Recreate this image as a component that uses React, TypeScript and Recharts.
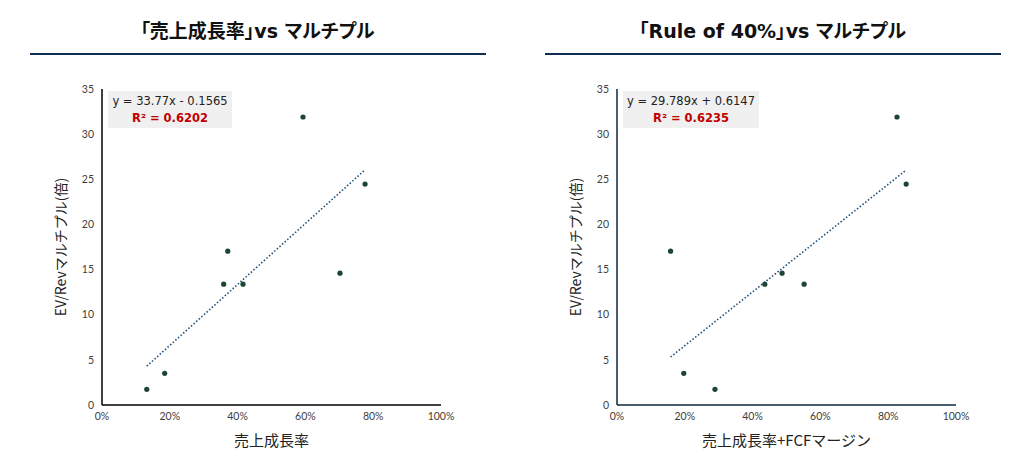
import React from 'react';
import {
  ScatterChart,
  Scatter,
  XAxis,
  YAxis,
  ReferenceLine,
} from 'recharts';

// 左: 売上成長率 vs マルチプル
const growthX = [0.132, 0.185, 0.359, 0.371, 0.416, 0.593, 0.702, 0.776];
const growthY = [1.74, 3.51, 13.38, 17.04, 13.38, 31.9, 14.6, 24.47];
const growthSlope = 33.77;
const growthIntercept = -0.1565;

// 右: Rule of 40% vs マルチプル
const ruleX = [0.158, 0.197, 0.289, 0.436, 0.487, 0.552, 0.826, 0.853];
const ruleY = [17.04, 3.51, 1.74, 13.38, 14.6, 13.38, 31.9, 24.47];
const ruleSlope = 29.789;
const ruleIntercept = 0.6147;

const xTicks = [0, 0.2, 0.4, 0.6, 0.8, 1];
const yTicks = [0, 5, 10, 15, 20, 25, 30, 35];

const JP = '"Noto Sans CJK JP", "Noto Sans", sans-serif';
const TITLE = '"DejaVu Sans", "Noto Sans CJK JP", sans-serif';
const TICK = 'Lato, "Noto Sans", sans-serif';

type PanelProps = {
  left: number;
  title: string;
  xs: number[];
  ys: number[];
  slope: number;
  intercept: number;
  eq: string;
  r2: string;
  xLabel: string;
  axisColor: string;
  eqWidth: number;
};

function Dot(props: any) {
  const { cx, cy } = props;
  return <circle cx={cx} cy={cy} r={2.6} fill="#1d4536" />;
}

function Panel({ left, title, xs, ys, slope, intercept, eq, r2, xLabel, axisColor, eqWidth }: PanelProps) {
  const points = xs.map((x, i) => ({ x, y: ys[i] }));
  const x0 = Math.min(...xs);
  const x1 = Math.max(...xs);
  const seg = [
    { x: x0, y: slope * x0 + intercept },
    { x: x1, y: slope * x1 + intercept },
  ];

  return (
    <div style={{ position: 'absolute', left, top: 0, width: 515, height: 468 }}>
      <div
        style={{
          position: 'absolute',
          left: 0,
          width: 515,
          top: 18,
          textAlign: 'center',
          fontFamily: TITLE,
          fontWeight: 700,
          fontSize: 19,
          lineHeight: '26px',
          color: '#111',
          fontFeatureSettings: '"palt"',
        }}
      >
        {title}
      </div>
      <div style={{ position: 'absolute', left: 30, width: 456, top: 53, height: 2, background: '#0f2d55' }} />

      <ScatterChart width={515} height={468} margin={{ top: 89, right: 74, bottom: 0, left: 0 }}>
        <XAxis
          type="number"
          dataKey="x"
          domain={[0, 1]}
          ticks={xTicks}
          tickFormatter={(v) => `${Math.round(v * 100)}%`}
          tickLine={false}
          axisLine={{ stroke: axisColor, strokeWidth: 1.5 }}
          tick={{ fontSize: 10.5, fill: '#404040', fontFamily: TICK }}
          height={63}
          label={{
            value: xLabel,
            position: 'insideTop',
            offset: 30,
            style: { fontSize: 15, fill: '#222', fontFamily: JP },
          }}
        />
        <YAxis
          type="number"
          dataKey="y"
          domain={[0, 35]}
          ticks={yTicks}
          tickLine={false}
          axisLine={{ stroke: axisColor, strokeWidth: 1.5 }}
          tick={{ fontSize: 10.5, fill: '#404040', fontFamily: TICK }}
          width={102}
          label={{
            value: 'EV/Revマルチプル(倍)',
            angle: -90,
            position: 'insideLeft',
            offset: 61,
            style: { textAnchor: 'middle', fontSize: 14, fill: '#222', fontFamily: JP },
          }}
        />
        <ReferenceLine
          segment={seg}
          stroke="#1f4e79"
          strokeWidth={1.6}
          strokeDasharray="1.5 2"
          ifOverflow="visible"
        />
        <Scatter data={points} shape={<Dot />} isAnimationActive={false} />
      </ScatterChart>

      <div
        style={{
          position: 'absolute',
          left: 108,
          top: 91,
          width: eqWidth,
          height: 37,
          background: '#f0f0f0',
          fontFamily: '"DejaVu Sans", sans-serif',
          textAlign: 'center',
        }}
      >
        <div style={{ fontSize: 11.5, color: '#222', lineHeight: '17px', marginTop: 2 }}>{eq}</div>
        <div style={{ fontSize: 11.5, color: '#c00000', fontWeight: 700, lineHeight: '16px' }}>{r2}</div>
      </div>
    </div>
  );
}

export default function App() {
  return (
    <div style={{ position: 'absolute', left: 0, top: 0, width: 1030, height: 468, background: '#fff' }}>
      <Panel
        left={0}
        title="「売上成長率」vs マルチプル"
        xs={growthX}
        ys={growthY}
        slope={growthSlope}
        intercept={growthIntercept}
        eq="y = 33.77x - 0.1565"
        r2="R² = 0.6202"
        xLabel="売上成長率"
        axisColor="#000"
        eqWidth={124}
      />
      <Panel
        left={515}
        title="「Rule of 40%」vs マルチプル"
        xs={ruleX}
        ys={ruleY}
        slope={ruleSlope}
        intercept={ruleIntercept}
        eq="y = 29.789x + 0.6147"
        r2="R² = 0.6235"
        xLabel="売上成長率+FCFマージン"
        axisColor="#0e2841"
        eqWidth={136}
      />
    </div>
  );
}
